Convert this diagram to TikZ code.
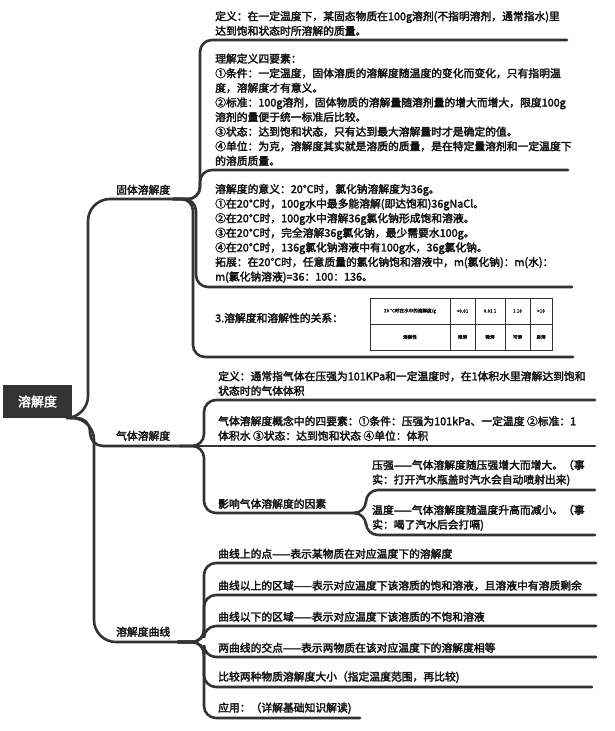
\documentclass[tikz,border=0pt]{standalone}
\usepackage{fontspec}
\setmainfont{Noto Sans CJK SC}[AutoFakeBold=2.6]
\definecolor{ln}{HTML}{333333}
\definecolor{tx}{HTML}{111111}
\newcommand{\fs}{\fontsize{10.8}{14.6}\selectfont\bfseries}
\begin{document}
\begin{tikzpicture}[x=1pt,y=-1pt,
  leaf/.style={anchor=south west,inner sep=0pt,align=left,font=\fs,text=tx},
  br/.style={draw=ln,line width=2.6pt,rounded corners=12pt,line cap=round},
  tb/.style={inner sep=0pt,font=\fontsize{4.6}{5}\selectfont\bfseries,text=tx}]
\useasboundingbox (0,0) rectangle (615,731);
% root
\node[fill=ln,text=white,font=\fontsize{13}{15}\selectfont\bfseries,minimum width=69pt,minimum height=33pt,inner sep=0pt] (root) at (37.5,401.5) {溶解度};
\coordinate (r) at (70,418);
% branches
\node[leaf] (solid) at (116,195) {固体溶解度};
\node[leaf] (gas) at (116,441) {气体溶解度};
\node[leaf] (curve) at (116,637) {溶解度曲线};
\coordinate (fs) at (173,199); \coordinate (fg) at (180,446); \coordinate (fc) at (178,642);
\draw[br,rounded corners=22pt] (r) -| (88,199) -- (fs);
\draw[br,rounded corners=13pt] (r) -| (90,446) -- (fg);
\draw[br,rounded corners=22pt] (r) -| (94,642) -- (fc);
% solid leaves
\node[leaf] (s1) at (215,36) {定义：在一定温度下，某固态物质在100g溶剂(不指明溶剂，通常指水)里\\达到饱和状态时所溶解的质量。};
\node[leaf] (s2) at (215,166) {理解定义四要素：\\①条件：一定温度，固体溶质的溶解度随温度的变化而变化，只有指明温\\度，溶解度才有意义。\\②标准：100g溶剂，固体物质的溶解量随溶剂量的增大而增大，限度100g\\溶剂的量便于统一标准后比较。\\③状态：达到饱和状态，只有达到最大溶解量时才是确定的值。\\④单位：为克，溶解度其实就是溶质的质量，是在特定量溶剂和一定温度下\\的溶质质量。};
\node[leaf] (s3) at (215,283) {溶解度的意义：20℃时，氯化钠溶解度为36g。\\①在20℃时，100g水中最多能溶解(即达饱和)36gNaCl。\\②在20℃时，100g水中溶解36g氯化钠形成饱和溶液。\\③在20℃时，完全溶解36g氯化钠，最少需要水100g。\\④在20℃时，136g氯化钠溶液中有100g水，36g氯化钠。\\拓展：在20℃时，任意质量的氯化钠饱和溶液中，m(氯化钠)：m(水)：\\m(氯化钠溶液)=36：100：136。};
\node[leaf,anchor=west] (s4) at (215,318) {3.溶解度和溶解性的关系：};
\draw[br] (fs) -| (200,40) -- (567,40);
\draw[br] (fs) -| (200,170) -- (568,170);
\draw[br] (fs) -| (196,287) -- (572,287);
\draw[br] (fs) -| (193,357) -- (573,357);
% table
\draw[ln,line width=0.5pt] (370,298) rectangle (552,350) (370,324) -- (552,324)
  (450,298) -- (450,350) (475,298) -- (475,350) (505,298) -- (505,350) (530,298) -- (530,350);
\node[tb] (t1) at (410,311) {20 ℃时在水中的溶解度/g};
\node[tb] (t2) at (462.5,311) {<0.01};
\node[tb] (t3) at (490,311) {0.01~1};
\node[tb] (t4) at (517.5,311) {1~10};
\node[tb] (t5) at (541,311) {>10};
\node[tb] (u1) at (410,337) {溶解性};
\node[tb] (u2) at (462.5,337) {难溶};
\node[tb] (u3) at (490,337) {微溶};
\node[tb] (u4) at (517.5,337) {可溶};
\node[tb] (u5) at (541,337) {易溶};
% gas leaves
\node[leaf] (g1) at (218,396) {定义：通常指气体在压强为101KPa和一定温度时，在1体积水里溶解达到饱和\\状态时的气体体积};
\node[leaf] (g2) at (218,441) {气体溶解度概念中的四要素：①条件：压强为101kPa、一定温度 ②标准：1\\体积水 ③状态：达到饱和状态 ④单位：体积};
\node[leaf] (g3) at (218,509) {影响气体溶解度的因素};
\coordinate (ff) at (355,513);
\draw[br] (fg) -| (204,400) -- (595,400);
\draw[br] (fg) -- (595,446);
\draw[br] (fg) -| (204,513) -- (ff);
\node[leaf] (g4) at (372,486) {压强——气体溶解度随压强增大而增大。（事\\实：打开汽水瓶盖时汽水会自动喷射出来)};
\node[leaf] (g5) at (372,531) {温度——气体溶解度随温度升高而减小。（事\\实：喝了汽水后会打嗝)};
\draw[br] (ff) -| (366,490) -- (595,490);
\draw[br] (ff) -| (366,535) -- (595,535);
% curve leaves
\node[leaf] (c1) at (218,559) {曲线上的点——表示某物质在对应温度下的溶解度};
\node[leaf] (c2) at (218,591) {曲线以上的区域——表示对应温度下该溶质的饱和溶液，且溶液中有溶质剩余};
\node[leaf] (c3) at (218,622) {曲线以下的区域——表示对应温度下该溶质的不饱和溶液};
\node[leaf] (c4) at (218,653) {两曲线的交点——表示两物质在该对应温度下的溶解度相等};
\node[leaf] (c5) at (218,683) {比较两种物质溶解度大小（指定温度范围，再比较)};
\node[leaf] (c6) at (218,714) {应用：（详解基础知识解读)};
\draw[br] (fc) -| (204,563) -- (596,563);
\draw[br] (fc) -| (204,595) -- (596,595);
\draw[br] (fc) -| (204,626) -- (596,626);
\draw[br] (fc) -| (204,657) -- (596,657);
\draw[br] (fc) -| (204,687) -- (592,687);
\draw[br] (fc) -| (204,718) -- (360,718);
\end{tikzpicture}
\end{document}
